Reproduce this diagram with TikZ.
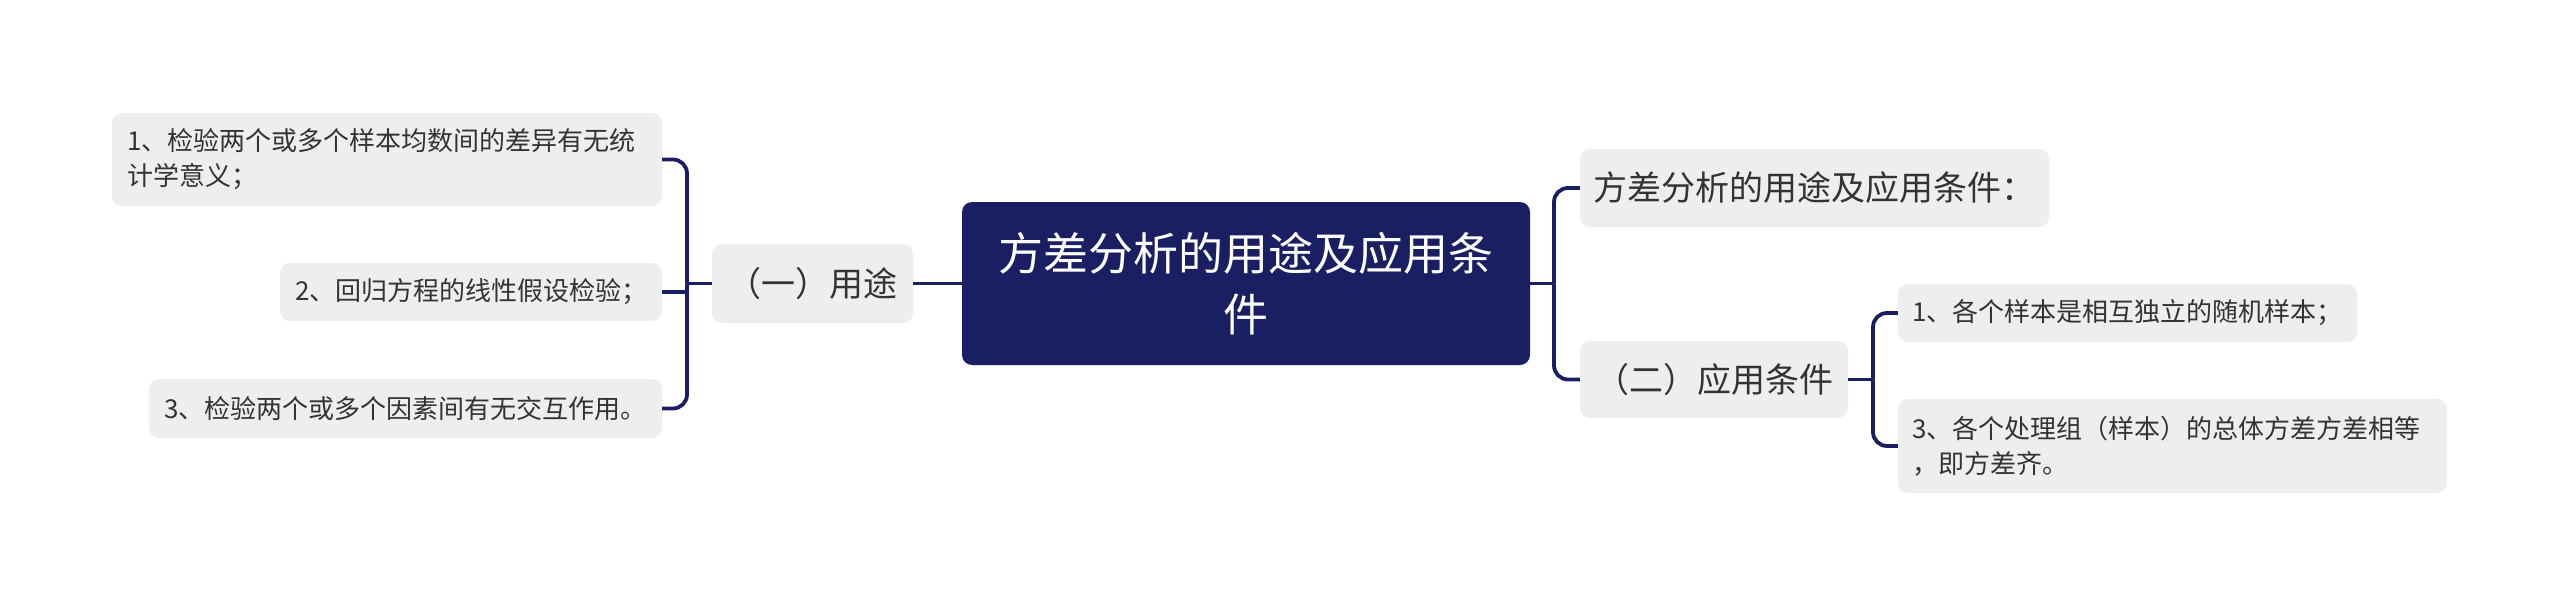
\documentclass[tikz,border=0pt]{standalone}
\usepackage{fontspec}
\newfontfamily\cjk{Noto Sans CJK SC}
\definecolor{navy}{HTML}{1A1F63}
\definecolor{boxgray}{HTML}{EEEEEE}
\definecolor{txt}{HTML}{333333}
\begin{document}
\begin{tikzpicture}[x=1pt,y=-1pt,
  conn/.style={draw=navy, line width=3.8pt, rounded corners=14pt},
  rootbox/.style={fill=navy, rounded corners=10pt, text=white, font=\cjk\fontsize{45}{61}\selectfont, align=center, inner sep=0pt},
  midbox/.style={fill=boxgray, rounded corners=10pt, text=txt, font=\cjk\fontsize{34}{40}\selectfont, align=center, inner sep=0pt},
  leafbox/.style={fill=boxgray, rounded corners=10pt, text=txt, font=\cjk\fontsize{26}{35}\selectfont, align=left, inner xsep=15pt, inner ysep=0pt},
]
\useasboundingbox (0,0) rectangle (2560,605);

% root
\node[rootbox, minimum width=568pt, minimum height=163pt] (root) at (1246,283.5) {方差分析的用途及应用条\\件};

% left branch
\node[midbox, minimum width=201pt, minimum height=79pt] (A) at (812.5,283.5) {（一）用途};
\node[leafbox, minimum width=550pt, text width=520pt, minimum height=93pt] (L1) at (387,159.5) {1、检验两个或多个样本均数间的差异有无统\\计学意义；};
\node[leafbox, minimum width=382pt, text width=352pt, minimum height=58pt] (L2) at (471,292) {2、回归方程的线性假设检验；};
\node[leafbox, minimum width=513pt, text width=483pt, minimum height=59pt] (L3) at (405.5,408.5) {3、检验两个或多个因素间有无交互作用。};

% right branch
\node[midbox, minimum width=469pt, minimum height=78pt] (R1) at (1814.5,188) {方差分析的用途及应用条件：};
\node[midbox, minimum width=268pt, minimum height=77pt] (R2) at (1714,379.5) {（二）应用条件};
\node[leafbox, inner xsep=14pt, minimum width=459pt, text width=431pt, minimum height=58pt] (R3) at (2127.5,313) {1、各个样本是相互独立的随机样本；};
\node[leafbox, inner xsep=14pt, minimum width=549pt, text width=521pt, minimum height=94pt] (R4) at (2172.5,446) {3、各个处理组（样本）的总体方差方差相等\\，即方差齐。};

% junction points
\coordinate (bl) at (687,283.5);
\coordinate (br) at (1554,283.5);
\coordinate (br2) at (1873,379.5);

% connectors
\draw[conn] (root.west) -- (A.east);
\draw[conn] (A.west) -- (bl);
\draw[conn] (L1.east) -| (bl);
\draw[conn] (L3.east) -| (bl);
\draw[conn] (L2.east) -- (L2.east -| bl);

\draw[conn] (root.east) -- (br);
\draw[conn] (R1.west) -| (br);
\draw[conn] (R2.west) -| (br);

\draw[conn] (R2.east) -- (br2);
\draw[conn] (R3.west) -| (br2);
\draw[conn] (R4.west) -| (br2);
\end{tikzpicture}
\end{document}
